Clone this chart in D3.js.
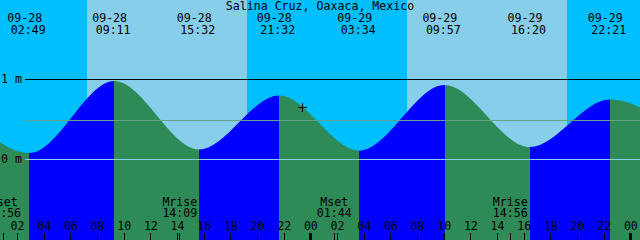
<!DOCTYPE html>
<html><head><meta charset="utf-8">
<script src="https://cdn.jsdelivr.net/npm/d3@7"></script>
<style>
html,body{margin:0;padding:0;background:#fff;overflow:hidden;}
svg{display:block;}
text{font-family:"DejaVu Sans Mono",monospace;font-size:11.6px;fill:#000;}
</style></head><body>
<script>
// ---------------- data ----------------
const title = "Salina Cruz, Oaxaca, Mexico";
const windowStart = "2025-09-28 00:41";
const windowHours = 48;

const tideTimes   = ["2025-09-27 20:45","2025-09-28 02:49","2025-09-28 09:11","2025-09-28 15:32","2025-09-28 21:32",
                     "2025-09-29 03:34","2025-09-29 09:57","2025-09-29 16:20","2025-09-29 22:21","2025-09-30 04:45"];
const tideHeights = [0.85, 0.08, 0.98, 0.125, 0.80, 0.11, 0.93, 0.155, 0.75, 0.15];

const sunriseTimes = ["2025-09-28 07:11","2025-09-29 07:11"];
const sunsetTimes  = ["2025-09-28 19:11","2025-09-29 19:11"];

const moonTimes  = ["2025-09-28 00:56","2025-09-28 14:09","2025-09-29 01:44","2025-09-29 14:56"];
const moonEvents = ["Mset","Mrise","Mset","Mrise"];

const depthLevels = [0, 1];
const depthLabels = ["0 m","1 m"];
const meanSeaLevel = 0.49;

const nowTime = "2025-09-28 23:18";
const nowHeight = 0.65;

// ---------------- styles ----------------
const W = 640, H = 240;
const nightColor = "#00BFFF", dayColor = "#87CEEB";
const riseColor = "#0000FF", fallColor = "#2E8B57";
const datumColor = "#87CEEB", mslColor = "#62A487";
const curveShift = 1;

// ---------------- scales ----------------
const parse = d3.utcParse("%Y-%m-%d %H:%M");
const t0 = parse(windowStart);
const t1 = d3.utcHour.offset(t0, windowHours);
const x = d3.scaleUtc().domain([t0, t1]).range([0, W]);
const y = d3.scaleLinear().domain([0, 1]).range([159.5, 79.5]);

const svg = d3.select("body").append("svg").attr("width", W).attr("height", H);

// background: night + day bands
svg.append("rect").attr("width", W).attr("height", H).attr("fill", nightColor);
svg.selectAll("rect.day").data(d3.zip(sunriseTimes, sunsetTimes)).join("rect")
  .attr("class","day")
  .attr("x", d => Math.round(x(parse(d[0]))))
  .attr("width", d => Math.round(x(parse(d[1]))) - Math.round(x(parse(d[0]))))
  .attr("y", 0).attr("height", H).attr("fill", dayColor);

// tide curve
const tides = tideTimes.map((s, i) => ({t: parse(s), h: tideHeights[i]}));
const cx = t => x(t) + curveShift;
const area = d3.area().x(d => cx(d.t)).y0(H).y1(d => y(d.h)).curve(d3.curveMonotoneX);

const defs = svg.append("defs");
const riseClip = defs.append("clipPath").attr("id", "rise");
const fallClip = defs.append("clipPath").attr("id", "fall");
for (let i = 0; i < tides.length - 1; i++) {
  const a = Math.round(x(tides[i].t)) + curveShift;
  const b = Math.round(x(tides[i + 1].t)) + curveShift;
  const clip = tides[i + 1].h > tides[i].h ? riseClip : fallClip;
  clip.append("rect").attr("x", a).attr("y", 0).attr("width", b - a).attr("height", H);
}
svg.append("path").datum(tides).attr("d", area).attr("fill", riseColor).attr("clip-path", "url(#rise)");
svg.append("path").datum(tides).attr("d", area).attr("fill", fallColor).attr("clip-path", "url(#fall)");

// depth lines
svg.append("line").attr("x1", 25).attr("x2", W).attr("y1", y(meanSeaLevel)).attr("y2", y(meanSeaLevel))
  .attr("stroke", mslColor).attr("stroke-width", 1).attr("shape-rendering", "crispEdges");
svg.selectAll("line.depth").data(depthLevels).join("line").attr("class","depth")
  .attr("x1", 25).attr("x2", W).attr("y1", d => y(d)).attr("y2", d => y(d))
  .attr("stroke", d => d === 0 ? datumColor : "#000").attr("stroke-width", 1).attr("shape-rendering", "crispEdges");
svg.selectAll("text.depth").data(depthLevels).join("text").attr("class","depth")
  .attr("x", 1).attr("y", d => y(d) + 3.5).text((d, i) => depthLabels[i]);

// title
svg.append("text").attr("x", W / 2).attr("y", 9.5).attr("text-anchor", "middle").text(title);

// tide event labels
const fmtDate = d3.utcFormat("%m-%d"), fmtTime = d3.utcFormat("%H:%M");
const visible = tides.filter(d => d.t >= t0 && d.t <= t1);
const lab = svg.selectAll("g.tl").data(visible).join("g").attr("class","tl");
lab.append("text").attr("x", d => x(d.t) - 3.7).attr("y", 22).attr("text-anchor", "middle").text(d => fmtDate(d.t));
lab.append("text").attr("x", d => x(d.t) - 0.2).attr("y", 34.3).attr("text-anchor", "middle").text(d => fmtTime(d.t));

// now marker
const nx = Math.floor(cx(parse(nowTime))) + 0.5, ny = Math.floor(y(nowHeight)) + 0.5;
svg.append("path").attr("d", `M${nx - 4.5},${ny}H${nx + 4.5}M${nx},${ny - 4.5}V${ny + 4.5}`)
  .attr("stroke", "#000").attr("stroke-width", 1).attr("shape-rendering", "crispEdges");

// hour ticks + labels
const hours = d3.utcHour.every(2).range(t0, d3.utcHour.offset(t1, 1));
svg.selectAll("line.tick").data(hours).join("line").attr("class","tick")
  .attr("x1", d => Math.floor(x(d)) + 0.5).attr("x2", d => Math.floor(x(d)) + 0.5)
  .attr("y1", 233).attr("y2", H)
  .attr("stroke", "#000").attr("stroke-width", d => d.getUTCHours() === 0 ? 3 : 1)
  .attr("shape-rendering", "crispEdges");
svg.selectAll("text.tick").data(hours).join("text").attr("class","tick")
  .attr("x", d => x(d)).attr("y", 229.5).attr("text-anchor", "middle").text(d => d3.utcFormat("%H")(d));

// moon events
const moons = moonTimes.map((s, i) => ({t: parse(s), name: moonEvents[i]}));
svg.selectAll("line.moon").data(moons).join("line").attr("class","moon")
  .attr("x1", d => Math.floor(x(d.t)) + 0.5).attr("x2", d => Math.floor(x(d.t)) + 0.5)
  .attr("y1", 233).attr("y2", H).attr("stroke", "#000").attr("stroke-width", 1).attr("shape-rendering", "crispEdges");
const ml = svg.selectAll("g.ml").data(moons).join("g").attr("class","ml");
ml.append("text").attr("x", d => x(d.t) + 0.3).attr("y", 206).attr("text-anchor", "middle").text(d => d.name);
ml.append("text").attr("x", d => x(d.t) + 0.3).attr("y", 217.4).attr("text-anchor", "middle").text(d => fmtTime(d.t));
</script>
</body></html>
